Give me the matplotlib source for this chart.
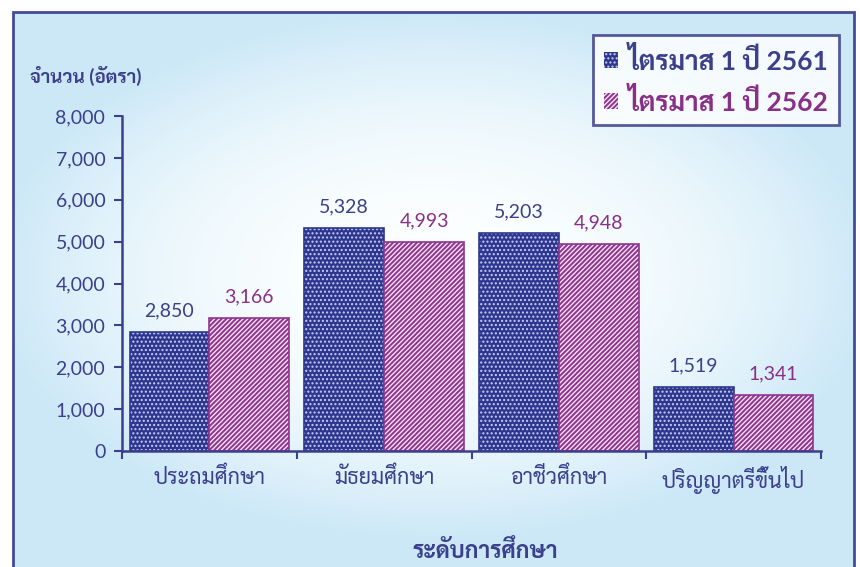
import numpy as np
import matplotlib
matplotlib.use("Agg")
import matplotlib.pyplot as plt
from matplotlib import font_manager
from matplotlib.patches import Rectangle

categories = ["ประถมศึกษา", "มัธยมศึกษา", "อาชีวศึกษา", "ปริญญาตรีขึ้นไป"]
q1_2561 = [2850, 5328, 5203, 1519]
q1_2562 = [3166, 4993, 4948, 1341]
series_labels = ["ไตรมาส 1 ปี 2561", "ไตรมาส 1 ปี 2562"]
yticks = [0, 1000, 2000, 3000, 4000, 5000, 6000, 7000, 8000]

# Lato for digits, a Thai family (with a bold face) for the rest
def has_bold(name):
    return any(f.name == name and f.weight in (600, 700, 800, "bold", "semibold")
               for f in font_manager.fontManager.ttflist)

installed = {f.name for f in font_manager.fontManager.ttflist}
cands = ["Noto Sans Thai", "Noto Sans Thai UI", "Sarabun", "Kanit"]
thai_font = next((n for n in cands if n in installed and has_bold(n)), None)
if thai_font is None:
    thai_font = next((n for n in cands if n in installed), "DejaVu Sans")
plt.rcParams["font.family"] = ["Lato", thai_font, "DejaVu Sans"]
plt.rcParams["hatch.linewidth"] = 1.0

navy = "#2e3790"
purple = "#8e3590"
txt_navy = "#3b3f8c"
txt_purple = "#8a2f88"

W, H = 860, 567
fig = plt.figure(figsize=(W / 100, H / 100), dpi=100)
fig.patch.set_facecolor("white")

# background gradient inside the frame
bg = fig.add_axes([13 / W, 0, (854 - 13) / W, 1 - 12 / H], zorder=-5)
yy, xx = np.mgrid[-1:1:200j, -1:1:300j]
r = np.clip(np.sqrt((xx / 1.05) ** 2 + ((yy + 0.05) / 0.95) ** 2), 0, 1) ** 2.2
c_in = np.array([0.99, 1.0, 1.0])
c_out = np.array([0.80, 0.91, 0.97])
img = c_in[None, None, :] * (1 - r[..., None]) + c_out[None, None, :] * r[..., None]
bg.imshow(img, aspect="auto", extent=[0, 1, 0, 1])
bg.set_axis_off()
fig.patches.append(Rectangle((13 / W, -0.05), (854 - 13) / W, 1.05 - 12 / H,
                             transform=fig.transFigure, fill=False,
                             edgecolor="#444a9a", linewidth=2, zorder=10))

ax = fig.add_axes([122 / W, 1 - 451 / H, (821 - 122) / W, (451 - 116) / H])
ax.patch.set_alpha(0)

x = np.arange(len(categories))
w = 0.457
b1 = ax.bar(x - w / 2, q1_2561, w, color=navy, edgecolor="#c9cdee", hatch="....", linewidth=0)
ax.bar(x - w / 2, q1_2561, w, fill=False, edgecolor=navy, linewidth=1.2)
b2 = ax.bar(x + w / 2, q1_2562, w, color=purple, edgecolor="#f8e2f2", hatch="///////", linewidth=0)
ax.bar(x + w / 2, q1_2562, w, fill=False, edgecolor=purple, linewidth=1.2)

for xi, v in zip(x - w / 2, q1_2561):
    ax.text(xi, v + 300, f"{v:,}", ha="center", va="bottom", fontsize=14, color=txt_navy)
for xi, v in zip(x + w / 2, q1_2562):
    ax.text(xi, v + 300, f"{v:,}", ha="center", va="bottom", fontsize=14, color=txt_purple)

ax.set_xlim(-0.5, len(categories) - 0.5)
ax.set_ylim(0, 8000)
ax.set_yticks(yticks)
ax.set_yticklabels([f"{t:,}" for t in yticks], fontsize=14, color=txt_navy)
ax.set_xticks(np.arange(-0.5, len(categories)), minor=False)
ax.set_xticklabels([])
ax.set_xticks(x, minor=True)
ax.set_xticklabels(categories, minor=True, fontsize=15.5, color=txt_navy)
ax.tick_params(axis="x", which="minor", length=0, pad=11)
ax.tick_params(axis="x", which="major", length=6, width=1.5, color=txt_navy)
ax.tick_params(axis="y", length=6, width=1.5, color=txt_navy, pad=6)
for s in ["top", "right"]:
    ax.spines[s].set_visible(False)
for s in ["left", "bottom"]:
    ax.spines[s].set_color(txt_navy)
    ax.spines[s].set_linewidth(1.8)

fig.text(485 / W, 1 - 551 / H, "ระดับการศึกษา", ha="center", va="center",
         fontsize=16.5, fontweight="bold", color=txt_navy)
fig.text(30 / W, 1 - 76 / H, "จำนวน (อัตรา)", ha="left", va="center",
         fontsize=13.5, fontweight="bold", color=txt_navy)

leg = fig.legend([b1, b2], series_labels, loc="upper right",
                 bbox_to_anchor=(839 / W, 1 - 35 / H), borderaxespad=0,
                 prop={"weight": "bold", "size": 19},
                 labelcolor=[txt_navy, txt_purple], frameon=True, fancybox=False,
                 handlelength=0.55, handleheight=0.55, handletextpad=0.35,
                 labelspacing=0.5, borderpad=0.4)
leg.get_frame().set_edgecolor("#2e3380")
leg.get_frame().set_linewidth(2)
leg.get_frame().set_facecolor("white")

fig.savefig("out.png", dpi=100)
